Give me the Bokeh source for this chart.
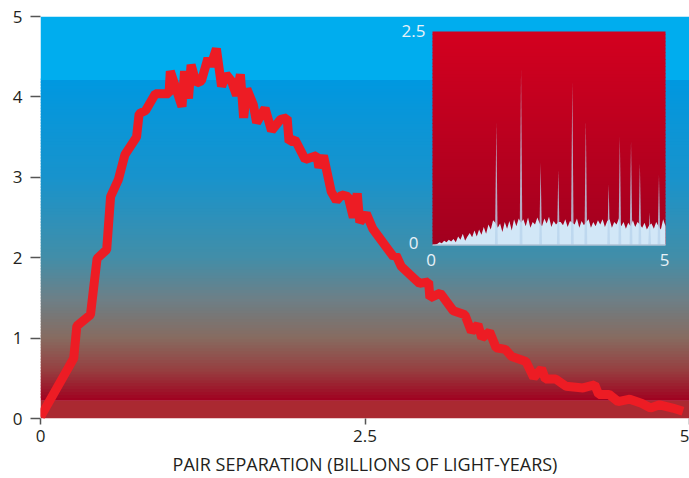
import numpy as np
from bokeh.plotting import figure
from bokeh.models import Range1d, FixedTicker
from bokeh.embed import file_html
from bokeh.resources import INLINE
from bokeh.core.properties import value

# ---------------- data ----------------
# main curve: pair counts vs separation
sep_x = [0.0, 0.256, 0.28, 0.385, 0.436, 0.51, 0.54, 0.60, 0.65, 0.74, 0.76, 0.81, 0.885,
         0.99, 1.0, 1.09, 1.11, 1.14, 1.16, 1.20, 1.24, 1.29, 1.31, 1.355, 1.395, 1.43, 1.47,
         1.51, 1.54, 1.565, 1.59, 1.64, 1.665, 1.73, 1.78, 1.85, 1.90, 1.915, 1.96, 2.04, 2.13,
         2.145, 2.18, 2.24, 2.28, 2.32, 2.37, 2.41, 2.44, 2.46, 2.51, 2.56, 2.72, 2.74, 2.78,
         2.86, 2.92, 2.99, 3.0, 3.08, 3.18, 3.27, 3.32, 3.37, 3.40, 3.46, 3.51, 3.58, 3.63,
         3.74, 3.80, 3.86, 3.89, 3.97, 4.05, 4.18, 4.27, 4.30, 4.38, 4.45, 4.54, 4.63, 4.70,
         4.77, 4.87, 4.95]
pair_y = [0.02, 0.75, 1.15, 1.29, 1.99, 2.10, 2.76, 2.97, 3.28, 3.50, 3.79, 3.83, 4.04,
          4.04, 4.32, 3.88, 4.32, 3.98, 4.40, 4.17, 4.20, 4.48, 4.38, 4.60, 4.13, 4.28, 4.20,
          4.02, 4.28, 3.74, 4.10, 3.90, 3.68, 3.86, 3.58, 3.72, 3.74, 3.44, 3.47, 3.22, 3.27,
          3.12, 3.27, 2.82, 2.71, 2.78, 2.76, 2.50, 2.80, 2.44, 2.55, 2.36, 2.01, 2.03, 1.89,
          1.77, 1.68, 1.70, 1.50, 1.56, 1.34, 1.29, 1.08, 1.17, 1.00, 1.08, 0.88, 0.86, 0.77,
          0.71, 0.51, 0.62, 0.49, 0.49, 0.40, 0.38, 0.42, 0.30, 0.30, 0.21, 0.24, 0.19, 0.13,
          0.17, 0.13, 0.09]

x_ticks = [0, 2.5, 5]
y_ticks = [0, 1, 2, 3, 4, 5]
x_title = "PAIR SEPARATION (BILLIONS OF LIGHT-YEARS)"

# inset: noisy baseline sampled every 0.05, plus narrow spikes
inset_y = [0, 0, 0.01, 0.03, 0.02, 0.05, 0.03, 0.06, 0.04, 0.07,
           0.03, 0.10, 0.06, 0.13, 0.05, 0.10, 0.14, 0.09, 0.17, 0.10,
           0.18, 0.12, 0.21, 0.13, 0.24, 0.18, 0.29, 0.26, 0.20, 0.25,
           0.15, 0.27, 0.19, 0.28, 0.17, 0.30, 0.22, 0.31, 0.26, 0.30,
           0.22, 0.32, 0.20, 0.27, 0.24, 0.32, 0.25, 0.22, 0.31, 0.25,
           0.33, 0.21, 0.28, 0.24, 0.27, 0.27, 0.23, 0.30, 0.21, 0.28,
           0.26, 0.24, 0.31, 0.20, 0.28, 0.23, 0.27, 0.30, 0.20, 0.27,
           0.22, 0.29, 0.24, 0.30, 0.21, 0.28, 0.30, 0.20, 0.27, 0.24,
           0.31, 0.22, 0.27, 0.19, 0.26, 0.22, 0.29, 0.21, 0.27, 0.24,
           0.20, 0.26, 0.18, 0.23, 0.25, 0.19, 0.27, 0.22, 0.18, 0.30,
           0.22]
inset_x = list(np.linspace(0, 5, len(inset_y)))
spike_x = [1.37, 1.90, 2.32, 2.70, 3.00, 3.29, 3.78, 4.02, 4.26, 4.45, 4.66, 4.86]
spike_y = [1.43, 2.05, 0.96, 0.88, 1.91, 1.46, 0.71, 1.27, 1.21, 0.96, 0.38, 0.82]
inset_x_ticks = [0, 5]
inset_y_ticks = [0, 2.5]

# ---------------- style ----------------
FONT = "Open Sans"
bg_stops_y = [0.22, 0.6, 1.0, 1.5, 2.0, 3.0, 4.21]
bg_stops_c = ["#A0001F", "#963F40", "#876B60", "#6C8088", "#428EA8", "#1893CC", "#0098E0"]
inset_stops_c = ["#A2001F", "#D3001F"]


def hex2rgb(h):
    return np.array([int(h[i:i + 2], 16) for i in (1, 3, 5)], dtype=float)


def interp_color(v, ys, cs):
    rgbs = np.array([hex2rgb(c) for c in cs])
    r = [np.interp(v, ys, rgbs[:, k]) for k in range(3)]
    return "#%02x%02x%02x" % tuple(int(round(c)) for c in r)


W, H = 689, 478
p = figure(width=W, height=H, x_range=Range1d(0, 5), y_range=Range1d(0, 5),
           output_backend="svg", toolbar_location=None,
           min_border_left=40, min_border_right=0, min_border_top=16, min_border_bottom=59)
p.outline_line_color = None
p.grid.grid_line_color = None
p.background_fill_color = "#ffffff"
p.border_fill_color = "#ffffff"

# main background gradient
y_lo, y_hi = bg_stops_y[0], bg_stops_y[-1]
n = 110
edges = np.linspace(y_lo, y_hi, n + 1)
mids = (edges[:-1] + edges[1:]) / 2
p.quad(left=x_ticks[0], right=x_ticks[-1], bottom=0, top=y_lo + 0.005,
       fill_color="#AA2931", line_color=None)
p.quad(left=x_ticks[0], right=x_ticks[-1], bottom=edges[:-1], top=edges[1:] + 0.02,
       fill_color=[interp_color(m, bg_stops_y, bg_stops_c) for m in mids], line_color=None)
p.quad(left=x_ticks[0], right=x_ticks[-1], bottom=y_hi, top=y_ticks[-1],
       fill_color="#00ADEE", line_color=None)

# main curve
p.line(sep_x, pair_y, line_color="#ED1C24", line_width=9, line_join="bevel", line_cap="butt")

# inset placed via extra ranges (fractions of the plot frame)
fx0, fx1 = (432 - 40) / 649, (665 - 40) / 649
fy0, fy1 = (419 - 245) / 403, (419 - 31) / 403
span_x = inset_x_ticks[-1] / (fx1 - fx0)
span_y = inset_y_ticks[-1] / (fy1 - fy0)
p.extra_x_ranges = {"ix": Range1d(-fx0 * span_x, -fx0 * span_x + span_x)}
p.extra_y_ranges = {"iy": Range1d(-fy0 * span_y, -fy0 * span_y + span_y)}

ie = np.linspace(0, inset_y_ticks[-1], 61)
im = (ie[:-1] + ie[1:]) / 2
p.quad(left=0, right=inset_x_ticks[-1], bottom=ie[:-1], top=np.minimum(ie[1:] + 0.01, inset_y_ticks[-1]),
       fill_color=[interp_color(m, [0, inset_y_ticks[-1]], inset_stops_c) for m in im],
       line_color=None, x_range_name="ix", y_range_name="iy")
p.varea(x=inset_x, y1=0, y2=inset_y, fill_color="#D2E7F7", x_range_name="ix", y_range_name="iy")
hw = 0.03
p.patches(xs=[[sx - hw, sx, sx + hw] for sx in spike_x],
          ys=[[0, sy, 0] for sy in spike_y],
          fill_color="#B9D4EC", fill_alpha=0.8, line_color=None,
          x_range_name="ix", y_range_name="iy")
p.segment(x0=0, y0=0, x1=inset_x_ticks[-1], y1=0, line_color="#AFC2D5", line_width=1.5,
          x_range_name="ix", y_range_name="iy")

# inset labels
lab_c = "#E8F1F8"
p.text(x=[-0.15, -0.3], y=[inset_y_ticks[-1], 0.02], text=["2.5", "0"],
       text_align="right", text_baseline="middle", text_font=value(FONT),
       text_font_size="17px", text_color=lab_c, x_range_name="ix", y_range_name="iy")
p.text(x=[-0.03, inset_x_ticks[-1] - 0.02], y=[-0.175, -0.175], text=["0", "5"],
       text_align="center", text_baseline="middle", text_font=value(FONT),
       text_font_size="17px", text_color=lab_c, x_range_name="ix", y_range_name="iy")

# axes
for ax in (p.xaxis[0], p.yaxis[0]):
    ax.axis_line_color = None
    ax.major_tick_line_color = "#555555"
    ax.major_tick_line_width = 1.5
    ax.minor_tick_line_color = None
    ax.major_tick_in = 0
    ax.major_label_text_font = FONT
    ax.major_label_text_font_size = "17px"
    ax.major_label_text_color = "#231F20"

p.xaxis.ticker = FixedTicker(ticks=x_ticks)
p.yaxis.ticker = FixedTicker(ticks=y_ticks)
p.xaxis.major_label_overrides = {2.5: "2.5", 0: "0", 5: "5"}
p.xaxis.major_tick_out = 6
p.yaxis.major_tick_out = 10
p.yaxis.major_label_standoff = 8
p.xaxis.major_label_standoff = 5
p.xaxis.axis_label = x_title
p.xaxis.axis_label_text_font = FONT
p.xaxis.axis_label_text_font_style = "normal"
p.xaxis.axis_label_text_font_size = "18px"
p.xaxis.axis_label_text_color = "#231F20"
p.xaxis.axis_label_standoff = 7

open("out.html", "w").write(file_html(p, INLINE))
